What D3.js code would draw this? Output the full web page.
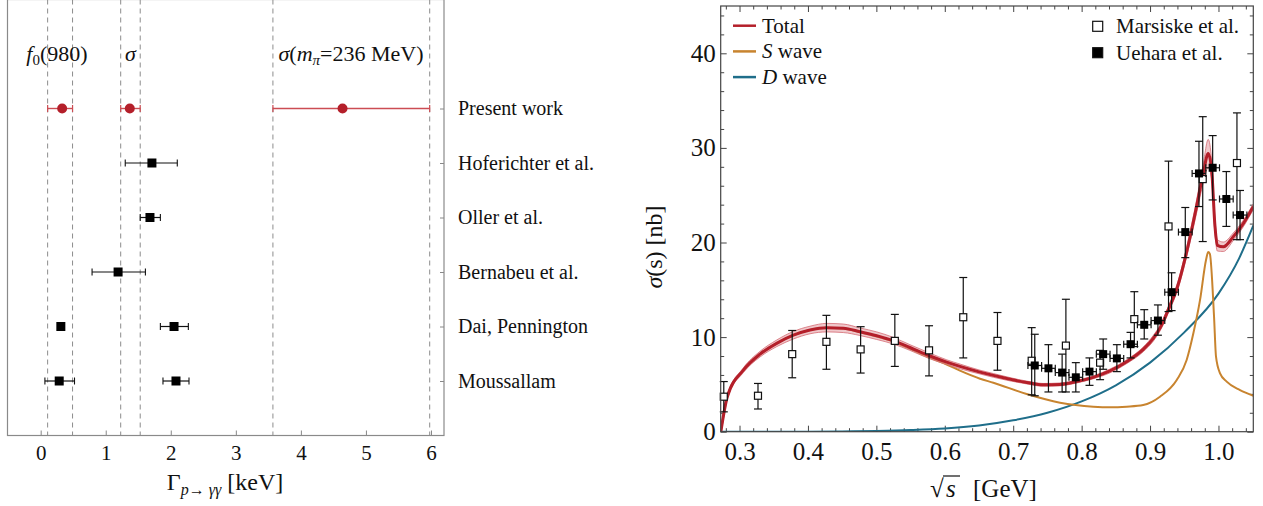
<!DOCTYPE html>
<html><head><meta charset="utf-8">
<script src="https://cdn.jsdelivr.net/npm/d3@7"></script>
<style>
body{margin:0;background:#fff}
svg{display:block}
text{font-family:"Liberation Serif","Times New Roman",serif;fill:#111}
</style>
</head><body>
<svg id="c" width="1263" height="506"></svg>
<script>
// ---------------- LEFT PANEL DATA ----------------
const rowLabels = ["Present work","Hoferichter et al.","Oller et al.","Bernabeu et al.","Dai, Pennington","Moussallam"];
const rowPos = [6,5,4,3,2,1];
const xTicksL = [0,1,2,3,4,5,6];
// present work: f0(980), sigma, sigma(m_pi=236 MeV)
const presentVal = [0.33, 1.37, 4.64];
const presentLo  = [0.107, 1.23, 3.57];
const presentHi  = [0.49, 1.53, 5.98];
const stateLabelX = [0.25, 1.38, 4.77];
// other determinations
const otherRow = [5, 4, 3, 2, 2, 1, 1];
const otherVal = [1.71, 1.68, 1.19, 0.31, 2.05, 0.285, 2.08];
const otherLo  = [1.30, 1.53, 0.79, null, 1.84, 0.065, 1.88];
const otherHi  = [2.10, 1.84, 1.61, null, 2.27, 0.52, 2.28];

// ---------------- RIGHT PANEL DATA ----------------
const xTicksR = [0.3,0.4,0.5,0.6,0.7,0.8,0.9,1.0];
const yTicksR = [0,10,20,30,40];
// Marsiske et al. (open squares)
const marsX  = [0.277,0.327,0.377,0.427,0.477,0.527,0.577,0.627,0.677,0.727,0.777,0.827,0.877,0.927,0.977,1.027];
const marsY  = [3.7,3.8,8.2,9.5,8.7,9.6,8.6,12.1,9.6,7.5,9.1,7.3,11.9,21.7,26.7,28.4];
const marsLo = [2.1,2.4,5.7,6.6,6.2,6.9,5.9,7.8,6.5,3.9,4.2,5.5,9.0,12.7,20.1,20.3];
const marsHi = [5.3,5.1,10.7,12.3,11.1,12.4,11.2,16.3,12.6,11.0,14.0,8.6,14.8,28.6,33.3,33.7];
// Uehara et al. (filled squares)
const ueX  = [0.7315,0.7515,0.7715,0.7915,0.8115,0.8315,0.8515,0.8715,0.8915,0.9115,0.9315,0.9515,0.9715,0.9915,1.0115,1.0315];
const ueY  = [7.0,6.7,6.25,5.75,6.35,8.2,7.75,9.25,11.3,11.75,14.75,21.1,27.3,27.9,24.6,22.9];
const ueLo = [3.8,4.2,4.2,4.2,4.9,6.6,6.35,7.8,9.8,10.2,12.8,18.4,23.8,24.5,21.7,20.3];
const ueHi = [10.3,9.2,8.2,7.3,7.8,9.8,9.2,10.5,12.9,13.4,16.8,23.7,30.7,31.3,27.5,25.5];
const ueBinHalf = 0.01;
// Total cross section with uncertainty band
const totalX = [0.2727,0.2822,0.3056,0.330,0.3543,0.3787,0.403,0.4274,0.4517,0.476,0.5005,0.5248,0.549,0.5784,0.6028,0.6222,0.6515,0.671,0.7197,0.744,0.7684,0.7928,0.817,0.8414,0.8658,0.890,0.905,0.915,0.929,0.940,0.9535,0.968,0.9778,0.985,0.990,0.9949,0.9983,1.0071,1.0216,1.0362,1.051];
const totalY = [0,3.7,6.5,8.2,9.34,10.2,10.75,11.0,10.93,10.57,10.15,9.62,8.9,8.0,7.35,6.9,6.3,5.95,5.2,4.95,5.0,5.3,5.75,6.42,7.4,8.7,9.9,11.0,13.3,15.3,19.0,23.8,27.3,29.4,27.7,21.7,19.7,19.55,20.6,22.0,23.8];
const totalBand = [0,0.15,0.25,0.3,0.35,0.4,0.4,0.45,0.45,0.4,0.4,0.35,0.3,0.3,0.25,0.25,0.2,0.2,0.15,0.15,0.15,0.15,0.15,0.2,0.2,0.25,0.3,0.3,0.35,0.4,0.5,0.7,1.0,1.5,1.0,0.8,0.6,0.5,0.4,0.35,0.3];
// S wave
const sX = [0.2727,0.2822,0.3056,0.330,0.3543,0.3787,0.403,0.4274,0.4517,0.476,0.5005,0.5248,0.549,0.5784,0.6028,0.6222,0.6515,0.671,0.7197,0.7684,0.817,0.8414,0.8658,0.890,0.9145,0.939,0.9535,0.9633,0.973,0.9818,0.985,0.9874,0.9935,0.9964,1.0023,1.012,1.0315,1.051];
const sY = [0,3.7,6.5,8.2,9.34,10.2,10.75,11.0,10.9,10.5,10.05,9.5,8.75,7.8,7.1,6.45,5.6,5.18,3.98,3.07,2.65,2.58,2.65,2.82,3.7,5.47,7.58,10.4,13.9,18.15,19.0,18.8,12.2,7.93,6.17,5.29,4.4,3.8];
// D wave
const dX = [0.2727,0.40,0.45,0.50,0.55,0.60,0.65,0.70,0.75,0.80,0.85,0.90,0.95,1.00,1.03,1.051];
const dY = [0,0.0,0.03,0.08,0.17,0.33,0.65,1.2,2.0,3.2,4.9,7.3,10.5,14.6,18.3,21.8];

// ---------------- DRAW ----------------
const svg = d3.select("#c");
const RED = "#b41f2a", ORANGE = "#c8842f", TEAL = "#1f6e8a";
const FONT = "Liberation Serif";

// ===== LEFT PANEL =====
const xL = d3.scaleLinear().domain([-0.51, 6.2]).range([7.5, 444]);
const yL = d3.scaleLinear().domain([0, 8]).range([435.5, -0.5]);
const gL = svg.append("g");

gL.selectAll("line.dash").data(presentLo.concat(presentHi)).join("line")
  .attr("x1", d => xL(d)).attr("x2", d => xL(d))
  .attr("y1", yL(8)).attr("y2", yL(0))
  .attr("stroke", "#8c8c8c").attr("stroke-width", 1).attr("stroke-dasharray", "5,4");

gL.append("g").attr("transform", `translate(0,${yL(0)})`)
  .call(d3.axisBottom(xL).tickValues(xTicksL).tickSize(-5).tickPadding(10).tickFormat(d3.format("d")))
  .attr("font-family", FONT).attr("font-size", 21)
  .call(g => g.select(".domain").remove())
  .call(g => g.selectAll("line").attr("stroke", "#888"))
  .call(g => g.selectAll("text").attr("fill", "#111"));

gL.append("g").attr("transform", `translate(${xL.range()[1]},0)`)
  .call(d3.axisRight(yL).tickValues(rowPos).tickSize(-4).tickFormat(""))
  .call(g => g.select(".domain").remove())
  .call(g => g.selectAll("line").attr("stroke", "#888"));

gL.append("rect").attr("x", xL.range()[0]).attr("y", yL(8))
  .attr("width", xL.range()[1] - xL.range()[0]).attr("height", yL(0) - yL(8))
  .attr("fill", "none").attr("stroke", "#8a8a8a").attr("stroke-width", 1.2);

// row labels
gL.selectAll("text.row").data(rowLabels).join("text")
  .attr("x", 458).attr("y", (d, i) => yL(rowPos[i])).attr("dy", "0.33em")
  .attr("font-size", 20).text(d => d);

// state labels
const sl = gL.append("g").attr("font-size", 22);
{
  const y = yL(7) + 7;
  let t = sl.append("text").attr("x", xL(stateLabelX[0])).attr("y", y).attr("text-anchor", "middle");
  t.append("tspan").attr("font-style", "italic").text("f");
  t.append("tspan").attr("font-size", 15).attr("dy", 4).text("0");
  t.append("tspan").attr("dy", -4).text("(980)");
  t = sl.append("text").attr("x", xL(stateLabelX[1])).attr("y", y).attr("text-anchor", "middle");
  t.append("tspan").attr("font-style", "italic").text("σ");
  t = sl.append("text").attr("x", xL(stateLabelX[2])).attr("y", y).attr("text-anchor", "middle");
  t.append("tspan").attr("font-style", "italic").text("σ");
  t.append("tspan").text("(");
  t.append("tspan").attr("font-style", "italic").text("m");
  t.append("tspan").attr("font-style", "italic").attr("font-size", 15).attr("dy", 4).text("π");
  t.append("tspan").attr("dy", -4).text("=236 MeV)");
}

// present work error bars + points
const pw = presentVal.map((v, i) => ({v, lo: presentLo[i], hi: presentHi[i], y: yL(rowPos[0])}));
const gp = gL.append("g");
gp.selectAll("line.bar").data(pw).join("line")
  .attr("x1", d => xL(d.lo)).attr("x2", d => xL(d.hi)).attr("y1", d => d.y).attr("y2", d => d.y)
  .attr("stroke", "#cc4c53").attr("stroke-width", 1.4);
["lo","hi"].forEach(k => {
  gp.selectAll("line.cap" + k).data(pw).join("line")
    .attr("x1", d => xL(d[k])).attr("x2", d => xL(d[k])).attr("y1", d => d.y - 3.5).attr("y2", d => d.y + 3.5)
    .attr("stroke", "#cc4c53").attr("stroke-width", 1.2);
});
gp.selectAll("circle").data(pw).join("circle")
  .attr("cx", d => xL(d.v)).attr("cy", d => d.y).attr("r", 5).attr("fill", RED);

// other determinations
const od = otherVal.map((v, i) => ({v, lo: otherLo[i], hi: otherHi[i], y: yL(otherRow[i])}));
const go = gL.append("g");
const odb = od.filter(d => d.lo !== null);
go.selectAll("line.bar").data(odb).join("line")
  .attr("x1", d => xL(d.lo)).attr("x2", d => xL(d.hi)).attr("y1", d => d.y).attr("y2", d => d.y)
  .attr("stroke", "#111").attr("stroke-width", 1.2);
["lo","hi"].forEach(k => {
  go.selectAll("line.cap" + k).data(odb).join("line")
    .attr("x1", d => xL(d[k])).attr("x2", d => xL(d[k])).attr("y1", d => d.y - 3.5).attr("y2", d => d.y + 3.5)
    .attr("stroke", "#111").attr("stroke-width", 1.1);
});
go.selectAll("rect").data(od).join("rect")
  .attr("x", d => xL(d.v) - 4.5).attr("y", d => d.y - 4.5).attr("width", 9).attr("height", 9).attr("fill", "#000");

// x label
{
  const t = gL.append("text").attr("x", 225).attr("y", 490).attr("text-anchor", "middle").attr("font-size", 24);
  t.append("tspan").text("Γ");
  t.append("tspan").attr("font-size", 16).attr("dy", 5).attr("font-style", "italic").text("p");
  t.append("tspan").attr("font-size", 16).text("→ ");
  t.append("tspan").attr("font-size", 16).attr("font-style", "italic").text("γγ");
  t.append("tspan").attr("dy", -5).text(" [keV]");
}

// ===== RIGHT PANEL =====
const xR = d3.scaleLinear().domain([0.2725, 1.0509]).range([720.7, 1253.3]);
const yR = d3.scaleLinear().domain([0, 45]).range([431.7, 6]);
const gR = svg.append("g");
const [rx0, rx1] = xR.range(), [ry0, ry1] = yR.range();

svg.append("defs").append("clipPath").attr("id", "clipR")
  .append("rect").attr("x", rx0).attr("y", ry1).attr("width", rx1 - rx0).attr("height", ry0 - ry1);

const minorX = d3.range(0.28, 1.05, 0.02).filter(v => Math.abs(Math.round(v * 10) - v * 10) > 1e-6);
const minorY = d3.range(2, 45, 2).filter(v => v % 10 !== 0);

function styleAx(g) {
  g.select(".domain").remove();
  g.selectAll("line").attr("stroke", "#444");
  g.selectAll("text").attr("fill", "#111");
}
gR.append("g").attr("transform", `translate(0,${ry0})`)
  .call(d3.axisBottom(xR).tickValues(xTicksR).tickSize(-6).tickPadding(11).tickFormat(d3.format(".1f")))
  .attr("font-family", FONT).attr("font-size", 25).call(styleAx);
gR.append("g").attr("transform", `translate(0,${ry0})`)
  .call(d3.axisBottom(xR).tickValues(minorX).tickSize(-3.5).tickFormat("")).call(styleAx);
gR.append("g").attr("transform", `translate(0,${ry1})`)
  .call(d3.axisTop(xR).tickValues(xTicksR).tickSize(-6).tickFormat("")).call(styleAx);
gR.append("g").attr("transform", `translate(0,${ry1})`)
  .call(d3.axisTop(xR).tickValues(minorX).tickSize(-3.5).tickFormat("")).call(styleAx);
gR.append("g").attr("transform", `translate(${rx0},0)`)
  .call(d3.axisLeft(yR).tickValues(yTicksR).tickSize(-6).tickPadding(5).tickFormat(d3.format("d")))
  .attr("font-family", FONT).attr("font-size", 25).call(styleAx);
gR.append("g").attr("transform", `translate(${rx0},0)`)
  .call(d3.axisLeft(yR).tickValues(minorY).tickSize(-3.5).tickFormat("")).call(styleAx);
gR.append("g").attr("transform", `translate(${rx1},0)`)
  .call(d3.axisRight(yR).tickValues(yTicksR).tickSize(-6).tickFormat("")).call(styleAx);
gR.append("g").attr("transform", `translate(${rx1},0)`)
  .call(d3.axisRight(yR).tickValues(minorY).tickSize(-3.5).tickFormat("")).call(styleAx);

// curves
const gc = gR.append("g").attr("clip-path", "url(#clipR)");
const line = d3.line().x(d => xR(d[0])).y(d => yR(d[1])).curve(d3.curveMonotoneX);
gc.append("path").datum(dX.map((x, i) => [x, dY[i]])).attr("d", line)
  .attr("fill", "none").attr("stroke", TEAL).attr("stroke-width", 2);
gc.append("path").datum(sX.map((x, i) => [x, sY[i]])).attr("d", line)
  .attr("fill", "none").attr("stroke", ORANGE).attr("stroke-width", 2);
const tot = totalX.map((x, i) => ({x, y: totalY[i], b: totalBand[i]}));
gc.append("path").datum(tot)
  .attr("d", d3.area().x(d => xR(d.x)).y0(d => yR(d.y - d.b)).y1(d => yR(d.y + d.b)).curve(d3.curveMonotoneX))
  .attr("fill", "#e39aa0").attr("fill-opacity", 0.55);
const lineT = d3.line().x(d => xR(d.x)).curve(d3.curveMonotoneX);
gc.append("path").datum(tot).attr("d", lineT.y(d => yR(d.y + d.b)))
  .attr("fill", "none").attr("stroke", "#d46b73").attr("stroke-width", 0.8);
gc.append("path").datum(tot).attr("d", lineT.y(d => yR(d.y - d.b)))
  .attr("fill", "none").attr("stroke", "#d46b73").attr("stroke-width", 0.8);
gc.append("path").datum(tot).attr("d", lineT.y(d => yR(d.y)))
  .attr("fill", "none").attr("stroke", RED).attr("stroke-width", 3);

// Marsiske
const md = marsX.map((x, i) => ({x, y: marsY[i], lo: marsLo[i], hi: marsHi[i]}));
const gm = gR.append("g").attr("stroke", "#111").attr("stroke-width", 1.2);
gm.selectAll("line.v").data(md).join("line")
  .attr("x1", d => xR(d.x)).attr("x2", d => xR(d.x)).attr("y1", d => yR(d.lo)).attr("y2", d => yR(d.hi));
["lo","hi"].forEach(k => {
  gm.selectAll("line.c" + k).data(md).join("line")
    .attr("x1", d => xR(d.x) - 4).attr("x2", d => xR(d.x) + 4).attr("y1", d => yR(d[k])).attr("y2", d => yR(d[k]));
});
gm.selectAll("rect").data(md).join("rect")
  .attr("x", d => xR(d.x) - 3.5).attr("y", d => yR(d.y) - 3.5).attr("width", 7).attr("height", 7)
  .attr("fill", "#fff");

// Uehara
const ud = ueX.map((x, i) => ({x, y: ueY[i], lo: ueLo[i], hi: ueHi[i]}));
const gu = gR.append("g").attr("stroke", "#111").attr("stroke-width", 1.2);
gu.selectAll("line.v").data(ud).join("line")
  .attr("x1", d => xR(d.x)).attr("x2", d => xR(d.x)).attr("y1", d => yR(d.lo)).attr("y2", d => yR(d.hi));
["lo","hi"].forEach(k => {
  gu.selectAll("line.c" + k).data(ud).join("line")
    .attr("x1", d => xR(d.x) - 4).attr("x2", d => xR(d.x) + 4).attr("y1", d => yR(d[k])).attr("y2", d => yR(d[k]));
});
gu.selectAll("line.h").data(ud).join("line")
  .attr("x1", d => xR(d.x - ueBinHalf)).attr("x2", d => xR(d.x + ueBinHalf)).attr("y1", d => yR(d.y)).attr("y2", d => yR(d.y));
[-1, 1].forEach(s => {
  gu.selectAll("line.hc" + (s > 0 ? "p" : "m")).data(ud).join("line")
    .attr("x1", d => xR(d.x + s * ueBinHalf)).attr("x2", d => xR(d.x + s * ueBinHalf))
    .attr("y1", d => yR(d.y) - 3.5).attr("y2", d => yR(d.y) + 3.5);
});
gu.selectAll("rect").data(ud).join("rect")
  .attr("x", d => xR(d.x) - 4).attr("y", d => yR(d.y) - 4).attr("width", 8).attr("height", 8)
  .attr("fill", "#000").attr("stroke", "none");

// frame
gR.append("rect").attr("x", rx0).attr("y", ry1).attr("width", rx1 - rx0).attr("height", ry0 - ry1)
  .attr("fill", "none").attr("stroke", "#444").attr("stroke-width", 1.2);

// legends
const leg = gR.append("g").attr("font-size", 21);
const legItems = [["Total", RED, null], ["S", ORANGE, " wave"], ["D", TEAL, " wave"]];
legItems.forEach((it, i) => {
  const y = 25.7 + i * 25.7;
  leg.append("line").attr("x1", 733).attr("x2", 756).attr("y1", y).attr("y2", y)
    .attr("stroke", it[1]).attr("stroke-width", 2.5);
  const t = leg.append("text").attr("x", 762).attr("y", y).attr("dy", "0.33em");
  if (it[2] === null) t.text(it[0]);
  else { t.append("tspan").attr("font-style", "italic").text(it[0]); t.append("tspan").text(it[2]); }
});
[["Marsiske et al.", "#fff"], ["Uehara et al.", "#000"]].forEach((it, i) => {
  const y = 26.3 + i * 26.4;
  leg.append("rect").attr("x", 1097.7 - 5).attr("y", y - 5).attr("width", 10).attr("height", 10)
    .attr("fill", it[1]).attr("stroke", "#111").attr("stroke-width", 1.2);
  leg.append("text").attr("x", 1116).attr("y", y).attr("dy", "0.33em").text(it[0]);
});

// axis labels
{
  const t = gR.append("text").attr("transform", "translate(662,247) rotate(-90)")
    .attr("text-anchor", "middle").attr("font-size", 24);
  t.append("tspan").attr("font-style", "italic").text("σ");
  t.append("tspan").text("(s) [nb]");
  const g = gR.append("g").attr("font-size", 25);
  g.append("text").attr("x", 930).attr("y", 497).text("√");
  g.append("text").attr("x", 946).attr("y", 497).attr("font-style", "italic").text("s");
  g.append("line").attr("x1", 943).attr("x2", 960).attr("y1", 476).attr("y2", 476)
    .attr("stroke", "#111").attr("stroke-width", 1.2);
  g.append("text").attr("x", 973).attr("y", 497).text("[GeV]");
}
</script>
</body></html>
